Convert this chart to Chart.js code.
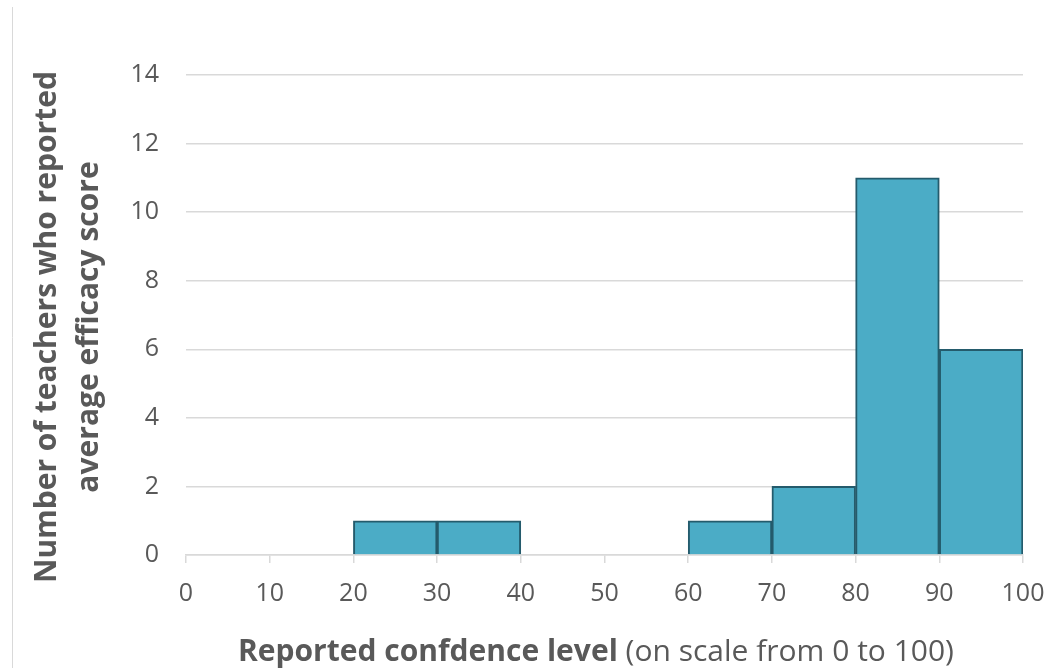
<!DOCTYPE html>
<html>
<head>
<meta charset="utf-8">
<style>
  html, body { margin: 0; padding: 0; background: #fff; }
  #wrap { width: 1047px; height: 668px; position: relative; }
</style>
<script src="https://cdn.jsdelivr.net/npm/chart.js@4.4.1/dist/chart.umd.min.js"></script>
</head>
<body>
<div id="wrap"><canvas id="c" width="1047" height="668"></canvas></div>
<script>
// Histogram bins (lower/upper edges) and counts
const binStarts = [0, 10, 20, 30, 40, 50, 60, 70, 80, 90];
const binEnds   = [10, 20, 30, 40, 50, 60, 70, 80, 90, 100];
const counts    = [0, 0, 1, 1, 0, 0, 1, 2, 11, 6];
const xTicks = [0, 10, 20, 30, 40, 50, 60, 70, 80, 90, 100];
const yTicks = [0, 2, 4, 6, 8, 10, 12, 14];
const yTitleLines = ['Number of teachers who reported', 'average efficacy score'];
const xTitleBold = 'Reported confdence level';
const xTitleNormal = ' (on scale from 0 to 100)';

const FONT = '"Open Sans", "Noto Sans", sans-serif';
const TEXT = '#595959';
const GRID = '#d9d9d9';

const data = binStarts.map((s, i) => ({ x: (s + binEnds[i]) / 2, y: counts[i] > 0 ? counts[i] : null }));

const titlesPlugin = {
  id: 'titles',
  beforeDraw(chart) {
    const ctx = chart.ctx;
    ctx.save();
    ctx.strokeStyle = GRID;
    ctx.lineWidth = 1;
    ctx.beginPath();
    ctx.moveTo(12.5, 7);
    ctx.lineTo(12.5, 668);
    ctx.stroke();
    ctx.restore();
  },
  afterDraw(chart) {
    const ctx = chart.ctx;
    ctx.save();
    ctx.fillStyle = TEXT;
    // x title
    ctx.textBaseline = 'alphabetic';
    ctx.font = 'bold 30px ' + FONT;
    const wb = ctx.measureText(xTitleBold).width;
    ctx.font = '30px ' + FONT;
    const wn = ctx.measureText(xTitleNormal).width;
    const x0 = 596 - (wb + wn) / 2;
    ctx.font = 'bold 30px ' + FONT;
    ctx.textAlign = 'left';
    ctx.fillText(xTitleBold, x0, 661);
    ctx.font = '30px ' + FONT;
    ctx.fillText(xTitleNormal, x0 + wb, 661);
    // y title
    ctx.font = 'bold 30px ' + FONT;
    ctx.textAlign = 'center';
    ctx.textBaseline = 'middle';
    const cy = 327;
    const xs = [47, 89];
    yTitleLines.forEach((t, i) => {
      ctx.save();
      ctx.translate(xs[i], cy);
      ctx.rotate(-Math.PI / 2);
      ctx.fillText(t, 0, 0);
      ctx.restore();
    });
    ctx.restore();
  }
};

new Chart(document.getElementById('c'), {
  type: 'bar',
  data: {
    datasets: [{
      data: data,
      backgroundColor: '#4bacc6',
      borderColor: '#245b6c',
      borderWidth: 2,
      borderSkipped: 'bottom',
      barPercentage: 1,
      categoryPercentage: 1
    }]
  },
  plugins: [titlesPlugin],
  options: {
    responsive: false,
    animation: false,
    devicePixelRatio: 1,
    layout: { padding: { top: 75, right: 24, left: 0, bottom: 0 } },
    plugins: { legend: { display: false }, tooltip: { enabled: false } },
    scales: {
      x: {
        type: 'linear',
        offset: false,
        min: 0, max: 100,
        afterBuildTicks: (s) => { s.ticks = xTicks.map(v => ({ value: v })); },
        afterFit: (s) => { s.height = 113; s.paddingLeft = 0; s.paddingRight = 0; },
        grid: { offset: false, drawOnChartArea: false, drawTicks: true, tickLength: 8, color: GRID, lineWidth: 1.5 },
        border: { display: true, color: GRID, width: 1.5 },
        ticks: { color: TEXT, font: { family: FONT, size: 25 }, padding: 16, maxRotation: 0, autoSkip: false }
      },
      y: {
        min: 0, max: 14,
        afterBuildTicks: (s) => { s.ticks = yTicks.map(v => ({ value: v })); },
        afterFit: (s) => { s.width = 186; s.paddingTop = 0; s.paddingBottom = 0; },
        grid: { color: GRID, lineWidth: 1.5, drawTicks: false },
        border: { display: false },
        ticks: { color: TEXT, font: { family: FONT, size: 25 }, padding: 27 }
      }
    }
  }
});
</script>
</body>
</html>
